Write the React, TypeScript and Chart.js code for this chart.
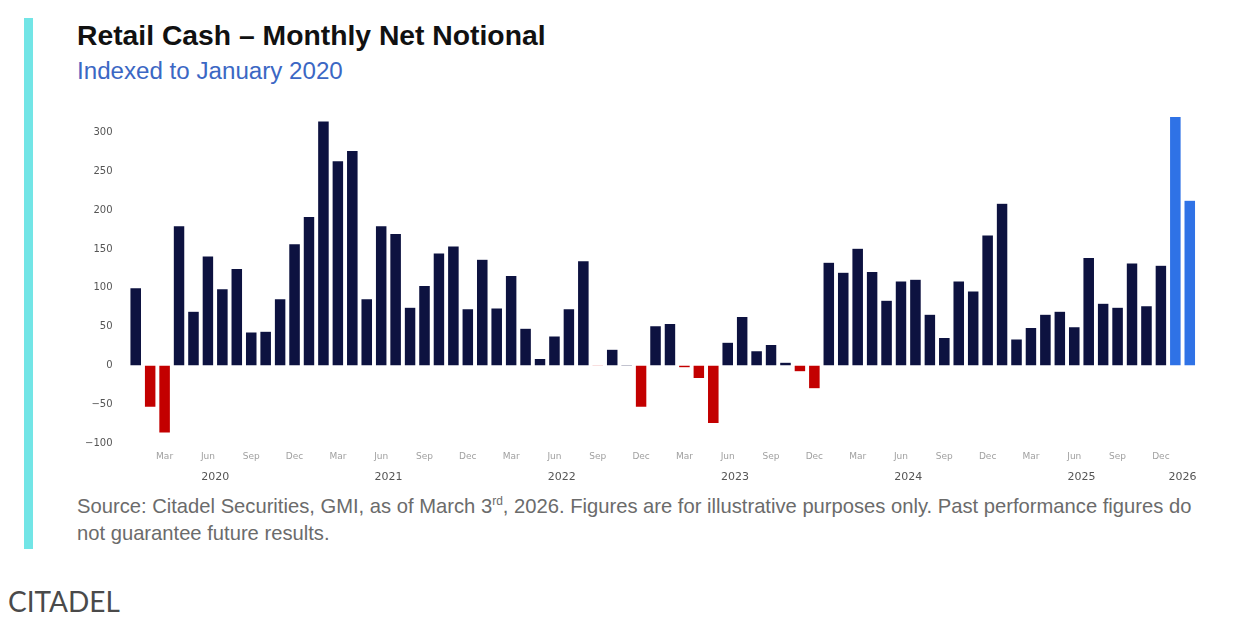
import React, { useEffect, useRef } from 'react';
import { Chart, registerables } from 'chart.js';

Chart.register(...registerables);

// ---- data ----
const monthNames = ['Jan', 'Feb', 'Mar', 'Apr', 'May', 'Jun', 'Jul', 'Aug', 'Sep', 'Oct', 'Nov', 'Dec'];
const years = [2020, 2021, 2022, 2023, 2024, 2025, 2026];
const values2020 = [100, -54, -87, 180, 70, 141, 99, 125, 43, 44, 86, 157];
const values2021 = [192, 315, 264, 277, 86, 180, 170, 75, 103, 145, 154, 73];
const values2022 = [137, 74, 116, 48, 9, 38, 73, 135, -1, 21, 0.8, -54];
const values2023 = [51, 54, -3, -17, -75, 30, 63, 19, 27, 4, -8, -30];
const values2024 = [133, 120, 151, 121, 84, 109, 111, 66, 36, 109, 96, 168];
const values2025 = [209, 34, 49, 66, 70, 50, 139, 80, 75, 132, 77, 129];
const values2026 = [321, 213];
const yTickValues = [-100, -50, 0, 50, 100, 150, 200, 250, 300];
const shownMonths = ['Mar', 'Jun', 'Sep', 'Dec'];
const highlightYear = 2026;

const seriesByYear = [values2020, values2021, values2022, values2023, values2024, values2025, values2026];

const NAVY = '#0d1240';
const RED = '#c30000';
const BLUE = '#2f72e6';

export default function App() {
  const canvasRef = useRef<HTMLCanvasElement | null>(null);

  useEffect(() => {
    const categories: { year: number; month: string }[] = [];
    const values: number[] = [];
    seriesByYear.forEach((vals, yi) => {
      vals.forEach((v, mi) => {
        categories.push({ year: years[yi], month: monthNames[mi] });
        values.push(v);
      });
    });
    const labels = categories.map((c) => `${c.month} ${c.year}`);
    const colors = values.map((v, i) =>
      categories[i].year === highlightYear ? BLUE : v < 0 ? RED : NAVY
    );

    const yearLabelPlugin = {
      id: 'yearLabels',
      afterDraw(chart: any) {
        const xs = chart.scales.x;
        const ctx = chart.ctx;
        ctx.save();
        ctx.font = '11px "DejaVu Sans"';
        ctx.fillStyle = '#555555';
        ctx.textAlign = 'center';
        ctx.textBaseline = 'middle';
        years.forEach((yr) => {
          const first = categories.findIndex((c) => c.year === yr);
          let last = first;
          categories.forEach((c, i) => {
            if (c.year === yr) last = i;
          });
          const px = (xs.getPixelForValue(first) + xs.getPixelForValue(last)) / 2;
          ctx.fillText(String(yr), px, chart.chartArea.bottom + 31);
        });
        ctx.restore();
      },
    };

    const chart = new Chart(canvasRef.current as HTMLCanvasElement, {
      type: 'bar',
      data: {
        labels,
        datasets: [
          {
            data: values,
            backgroundColor: colors,
            borderColor: 'rgba(255,255,255,0.6)',
            borderWidth: 0.5,
            categoryPercentage: 1,
            barPercentage: 0.8,
          },
        ],
      },
      options: {
        animation: false,
        responsive: true,
        maintainAspectRatio: false,
        layout: { padding: { top: 8.3, left: 0, right: 0, bottom: 0 } },
        plugins: { legend: { display: false }, tooltip: { enabled: false } },
        scales: {
          x: {
            offset: true,
            grid: { display: false, drawTicks: false },
            border: { display: false },
            ticks: {
              autoSkip: false,
              maxRotation: 0,
              minRotation: 0,
              padding: 5.5,
              color: '#a0a0a0',
              font: { family: '"DejaVu Sans"', size: 9 },
              callback: (_v: any, index: number) =>
                shownMonths.includes(categories[index].month) ? categories[index].month : '',
            },
            afterFit: (scale: any) => {
              scale.height = 43.3;
            },
          },
          y: {
            min: -104,
            max: 328,
            grid: { display: false, drawTicks: false },
            border: { display: false },
            afterBuildTicks: (scale: any) => {
              scale.ticks = yTickValues.map((v) => ({ value: v }));
            },
            ticks: {
              padding: 16,
              color: '#555555',
              font: { family: '"DejaVu Sans"', size: 10 },
              callback: (v: any) => String(v).replace('-', '\u2212'),
            },
            afterFit: (scale: any) => {
              scale.width = 58.5;
            },
          },
        },
      },
      plugins: [yearLabelPlugin],
    });
    return () => chart.destroy();
  }, []);

  return (
    <div
      style={{
        position: 'absolute',
        left: 0,
        top: 0,
        width: 1237,
        height: 619,
        background: '#ffffff',
        overflow: 'hidden',
      }}
    >
      <div style={{ position: 'absolute', left: 24, top: 18, width: 9, height: 531, background: '#72e5e6' }} />
      <div
        style={{
          position: 'absolute',
          left: 77,
          top: 21,
          fontFamily: '"Liberation Sans", Arial, sans-serif',
          fontWeight: 700,
          fontSize: 28.3,
          lineHeight: '28px',
          color: '#111111',
          whiteSpace: 'nowrap',
        }}
      >
        Retail Cash – Monthly Net Notional
      </div>
      <div
        style={{
          position: 'absolute',
          left: 77,
          top: 59,
          fontFamily: '"Liberation Sans", Arial, sans-serif',
          fontSize: 24.15,
          lineHeight: '24px',
          color: '#3b67c4',
          whiteSpace: 'nowrap',
        }}
      >
        Indexed to January 2020
      </div>
      <div style={{ position: 'absolute', left: 70, top: 88.9, width: 1127, height: 400.4 }}>
        <canvas ref={canvasRef} />
      </div>
      <div
        style={{
          position: 'absolute',
          left: 77,
          top: 493,
          fontFamily: '"Liberation Sans", Arial, sans-serif',
          fontSize: 20.2,
          lineHeight: '27px',
          color: '#6b6b6b',
          whiteSpace: 'nowrap',
        }}
      >
        Source: Citadel Securities, GMI, as of March 3
        <sup style={{ fontSize: 12, lineHeight: 0 }}>rd</sup>, 2026. Figures are for illustrative purposes only. Past
        performance figures do
        <br />
        not guarantee future results.
      </div>
      <div
        style={{
          position: 'absolute',
          left: 8,
          top: 586.7,
          fontFamily: 'Lato, "Open Sans", sans-serif',
          fontSize: 28,
          lineHeight: '28px',
          color: '#4a4a4a',
          whiteSpace: 'nowrap',
        }}
      >
        CITADEL
      </div>
    </div>
  );
}
